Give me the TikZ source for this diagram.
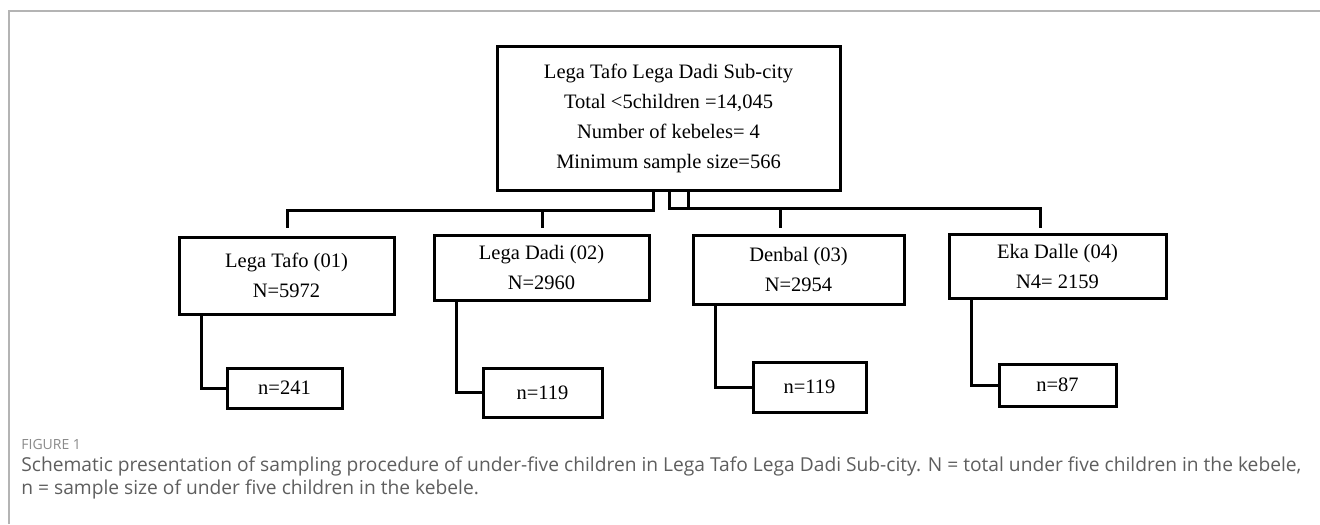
\documentclass[tikz,border=0pt]{standalone}
\usepackage{fontspec}
\setmainfont{Liberation Serif}
\newfontfamily\capfont{Open Sans}
\definecolor{capgray}{HTML}{5E5E5E}
\definecolor{framegray}{HTML}{B4B4B4}
\definecolor{labelgray}{HTML}{8A8A8A}

\begin{document}
\begin{tikzpicture}[x=0.5pt, y=-0.5pt,
    font=\fontsize{10.25}{15}\selectfont,
    box/.style={draw, line width=1.5pt, inner sep=0pt, outer sep=0pt, align=center},
    link/.style={line width=1.5pt},
    caption/.style={anchor=base west, inner sep=0pt, text=capgray, font=\capfont\fontsize{9.6}{11}\selectfont}]
    \useasboundingbox (0,0) rectangle (1320,524);
    \draw[framegray, line width=0.8pt] (9,524) -- (9,11) -- (1320,11);

    % sub-city
    \node[box, minimum width=171.5pt, minimum height=71.5pt] (city) at (668.5,118.5)
        {Lega Tafo Lega Dadi Sub-city\\Total <5children =14,045\\Number of kebeles= 4\\Minimum sample size=566};

    % kebeles
    \foreach \id/\cx/\cy/\boxw/\boxh/\place/\total in {
        1/286.5/275.5/215/77/Lega Tafo (01)/N=5972,
        2/541.5/267.5/215/65/Lega Dadi (02)/N=2960,
        3/798.5/269.5/211/69/Denbal (03)/N=2954,
        4/1057.5/266/217/64/Eka Dalle (04)/N4= 2159} {
        \node[box, minimum width=\boxw*0.5pt, minimum height=\boxh*0.5pt] (k\id) at (\cx,\cy) {\place\\\total};
    }

    % samples
    \foreach \id/\cx/\cy/\boxw/\boxh/\size in {
        1/284.5/388/115/40/241,
        2/542.5/392.5/119/49/119,
        3/809.5/387/113/50/119,
        4/1057.5/385/117/42/87} {
        \node[box, minimum width=\boxw*0.5pt, minimum height=\boxh*0.5pt] (s\id) at (\cx,\cy) {n=\size};
        \draw[link] (k\id.south west) ++(22,0) |- (s\id.west);
    }

    % branches
    \coordinate (busl) at (653,210);
    \coordinate (busr) at (669,208);
    \coordinate (stub) at (688,208);
    \coordinate (d1) at (287,228);
    \coordinate (d2) at (542,228);
    \coordinate (d3) at (780,228);
    \coordinate (d4) at (1040,228);
    \draw[link] (city.south -| busl) -- (busl) -| (d1);
    \draw[link] (d2 |- busl) -- (d2);
    \draw[link] (city.south -| busr) -- (busr) -| (d4);
    \draw[link] (city.south -| stub) -- (stub);
    \draw[link] (d3 |- busr) -- (d3);

    % caption
    \node[caption, text=labelgray, font=\capfont\fontsize{7}{8}\selectfont] (figno) at (21,449) {FIGURE 1};
    \node[caption] (capa) at (21,471) {Schematic presentation of sampling procedure of under-five children in Lega Tafo Lega Dadi Sub-city. N = total under five children in the kebele,};
    \node[caption] (capb) at (21,494) {n = sample size of under five children in the kebele.};
\end{tikzpicture}
\end{document}
